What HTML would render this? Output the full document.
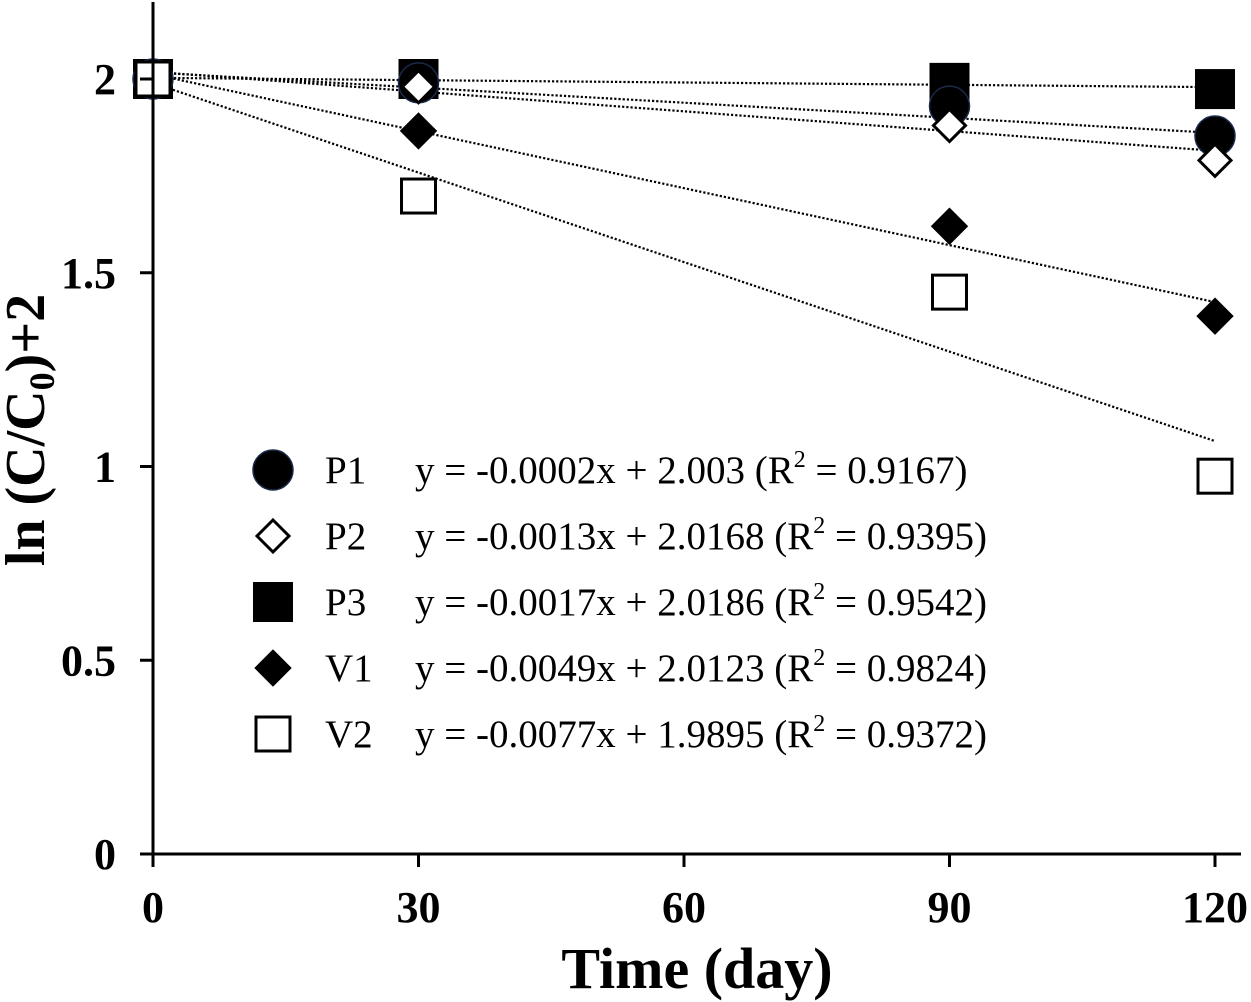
<!DOCTYPE html>
<html><head><meta charset="utf-8"><style>
body{margin:0;background:#fff}
svg{display:block;font-family:"Liberation Serif",serif}
</style></head><body>
<svg id="chart" width="1251" height="1002" viewBox="0 0 1251 1002" xmlns="http://www.w3.org/2000/svg">
<g id="lines"></g>
<g id="points"></g>
<g id="axes"></g>
<g id="legend"></g>
</svg>
<script>
const xDays = [0, 30, 90, 120];
const seriesNames = ["P1", "P2", "P3", "V1", "V2"];
const P1 = [2, 1.99, 1.93, 1.853];
const P2 = [2, 1.98, 1.88, 1.79];
const P3 = [2, 2.0, 1.99, 1.974];
const V1 = [2, 1.866, 1.62, 1.388];
const V2 = [2, 1.698, 1.45, 0.975];
const slopes = [-0.0002, -0.0013, -0.0017, -0.0049, -0.0077];
const intercepts = [2.003, 2.0168, 2.0186, 2.0123, 1.9895];
const r2 = ["0.9167", "0.9395", "0.9542", "0.9824", "0.9372"];
const xTicks = [0, 30, 60, 90, 120];
const yTicks = [0, 0.5, 1, 1.5, 2];
const yTickLabels = ["0", "0.5", "1", "1.5", "2"];

const NS = "http://www.w3.org/2000/svg";
const X = d => 153 + d * (1215 - 153) / 120;
const Y = v => 854 - v * (854 - 79) / 2;
function mk(tag, attrs, parent){const e=document.createElementNS(NS,tag);for(const k in attrs)e.setAttribute(k,attrs[k]);parent.appendChild(e);return e;}
const gL=document.getElementById('lines'),gP=document.getElementById('points'),gA=document.getElementById('axes'),gG=document.getElementById('legend');
const data=[P1,P2,P3,V1,V2];
const shapes=["circle","odiamond","square","diamond","osquare"];
function marker(shape,cx,cy,parent,name){
  let e;
  if(shape==="circle") e=mk('circle',{cx,cy,r:20,fill:'#000',stroke:'#1a2a4a','stroke-width':1.5},parent);
  else if(shape==="square") e=mk('rect',{x:cx-20,y:cy-20,width:40,height:40,fill:'#000'},parent);
  else if(shape==="osquare") e=mk('rect',{x:cx-17,y:cy-17,width:34,height:34,fill:'#fff',stroke:'#000','stroke-width':3},parent);
  else { const r = shape==="diamond"?18:16;
    e=mk('polygon',{points:`${cx},${cy-r} ${cx+r},${cy} ${cx},${cy+r} ${cx-r},${cy}`,fill:shape==="diamond"?'#000':'#fff',stroke:'#000','stroke-width':shape==="diamond"?1:3},parent);}
  
  
}
for(let s=0;s<5;s++){
  const l=mk('line',{x1:X(0),y1:Y(intercepts[s]),x2:X(120),y2:Y(intercepts[s]+slopes[s]*120),stroke:'#000','stroke-width':2.2,'stroke-dasharray':'2.2 2'},gL);
  
  
}
const order=[4,2,0,3,1];
for(const s of order){for(let i=0;i<xDays.length;i++){ if(s===4&&i===0) continue; marker(shapes[s],X(xDays[i]),Y(data[s][i]),gP,'point-'+seriesNames[s].toLowerCase()+'-'+xDays[i]);}}
marker(shapes[4],X(xDays[0]),Y(V2[0]),gP,'point-v2-0');
const ya=mk('line',{x1:153,y1:2,x2:153,y2:867,stroke:'#000','stroke-width':3},gA);


const xa=mk('line',{x1:140,y1:854,x2:1241,y2:854,stroke:'#000','stroke-width':3},gA);


xTicks.forEach(t=>{
  const tk=mk('line',{x1:X(t),y1:854,x2:X(t),y2:867,stroke:'#000','stroke-width':3},gA);
  
  
  const tx=mk('text',{x:X(t),y:922,'text-anchor':'middle','font-size':44,'font-weight':'bold'},gA);
  tx.textContent=t;
  
  
});
yTicks.forEach((t,i)=>{
  const tk=mk('line',{x1:140,y1:Y(t),x2:153,y2:Y(t),stroke:'#000','stroke-width':3},gA);
  
  
  const tx=mk('text',{x:116,y:Y(t)+15,'text-anchor':'end','font-size':44,'font-weight':'bold'},gA);
  tx.textContent=yTickLabels[i];
  
  
});
const xt=mk('text',{x:697,y:988,'text-anchor':'middle','font-size':58,'font-weight':'bold'},gA);
xt.textContent='Time (day)';


const yt=mk('text',{x:0,y:0,'text-anchor':'middle','font-size':56,'font-weight':'bold',transform:'translate(44,430) rotate(-90)'},gA);
yt.innerHTML='ln (C/C<tspan font-size="36" dy="10">0</tspan><tspan dy="-10">)+2</tspan>';


for(let s=0;s<5;s++){
  const cy=470+s*66;
  marker(shapes[s],273,cy,gG,'legend-marker-'+seriesNames[s].toLowerCase());
  const n=mk('text',{x:325,y:cy+13,'font-size':39},gG);
  n.textContent=seriesNames[s];
  
  
  const eq=mk('text',{x:415,y:cy+13,'font-size':39},gG);
  eq.innerHTML=`y = ${slopes[s]}x + ${intercepts[s]} (R<tspan font-size="24" dy="-16">2</tspan><tspan dy="16"> = ${r2[s]})</tspan>`;
  
  
}
</script>
</body></html>
